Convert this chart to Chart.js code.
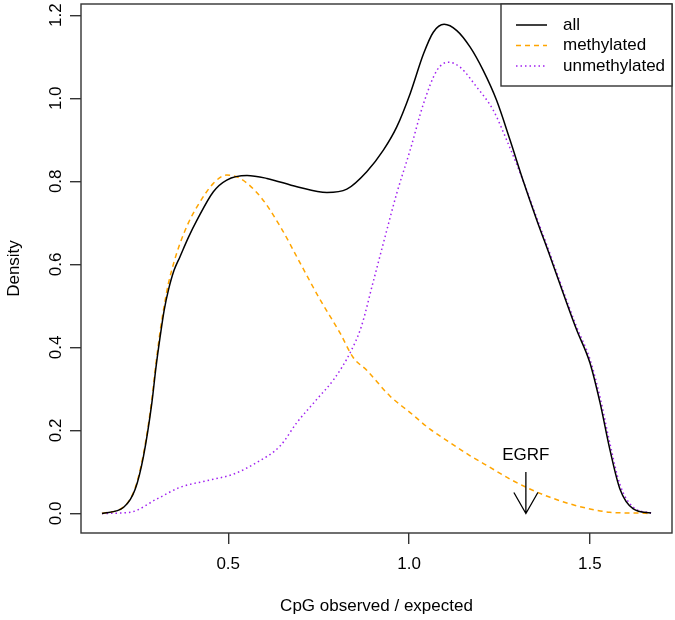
<!DOCTYPE html>
<html>
<head>
<meta charset="utf-8">
<script src="https://cdn.jsdelivr.net/npm/chart.js@4/dist/chart.umd.min.js"></script>
<style>
  html, body { margin: 0; padding: 0; background: #fff; }
  #wrap { width: 675px; height: 620px; }
</style>
</head>
<body>
<div id="wrap"><canvas id="densityChart" width="675" height="620"></canvas></div>
<script>
// density curves
const allX = [0.151, 0.211, 0.243, 0.266, 0.289, 0.300, 0.312, 0.323, 0.335, 0.350, 0.367, 0.390, 0.414, 0.459, 0.496, 0.552, 0.607, 0.690, 0.773, 0.828, 0.883, 0.929, 0.966, 1.003, 1.040, 1.067, 1.097, 1.132, 1.169, 1.205, 1.242, 1.279, 1.316, 1.353, 1.390, 1.426, 1.463, 1.500, 1.528, 1.555, 1.583, 1.620, 1.669];
const allY = [0.000, 0.015, 0.059, 0.139, 0.267, 0.350, 0.427, 0.490, 0.539, 0.585, 0.619, 0.665, 0.707, 0.775, 0.803, 0.814, 0.807, 0.787, 0.773, 0.781, 0.823, 0.875, 0.931, 1.011, 1.107, 1.159, 1.178, 1.163, 1.123, 1.067, 0.995, 0.900, 0.800, 0.707, 0.619, 0.531, 0.443, 0.363, 0.267, 0.155, 0.059, 0.011, 0.001];

const methX = [0.151, 0.211, 0.243, 0.266, 0.289, 0.300, 0.312, 0.323, 0.335, 0.350, 0.367, 0.390, 0.414, 0.459, 0.496, 0.533, 0.589, 0.644, 0.699, 0.754, 0.809, 0.846, 0.883, 0.947, 1.003, 1.058, 1.113, 1.169, 1.224, 1.279, 1.334, 1.390, 1.445, 1.500, 1.555, 1.629, 1.669];
const methY = [0.000, 0.016, 0.062, 0.145, 0.275, 0.360, 0.440, 0.500, 0.555, 0.605, 0.651, 0.700, 0.739, 0.795, 0.815, 0.807, 0.763, 0.691, 0.603, 0.515, 0.435, 0.375, 0.345, 0.283, 0.243, 0.203, 0.171, 0.139, 0.111, 0.083, 0.059, 0.039, 0.023, 0.011, 0.003, 0.001, 0.000];

const unmethX = [0.151, 0.229, 0.303, 0.367, 0.441, 0.515, 0.579, 0.644, 0.690, 0.745, 0.792, 0.837, 0.868, 0.900, 0.929, 0.966, 1.003, 1.040, 1.077, 1.109, 1.141, 1.187, 1.233, 1.270, 1.316, 1.353, 1.390, 1.426, 1.463, 1.500, 1.528, 1.555, 1.583, 1.620, 1.669];
const unmethY = [0.000, 0.003, 0.035, 0.063, 0.079, 0.095, 0.123, 0.163, 0.219, 0.275, 0.323, 0.387, 0.450, 0.555, 0.651, 0.771, 0.875, 0.987, 1.067, 1.087, 1.075, 1.027, 0.971, 0.899, 0.800, 0.712, 0.625, 0.537, 0.450, 0.372, 0.280, 0.170, 0.070, 0.015, 0.001];

const seriesNames = ['all', 'methylated', 'unmethylated'];
const xTicks = [0.5, 1.0, 1.5];
const yTicks = [0.0, 0.2, 0.4, 0.6, 0.8, 1.0, 1.2];

// EGRF marker
const egrfLabel = 'EGRF';
const egrfX = 1.323;
const egrfArrowTop = 0.1;
const egrfTextY = 0.139;

const FONT = '"Liberation Sans", Arial, Helvetica, sans-serif';

function toPoints(xs, ys) {
    return xs.map((x, i) => ({ x: x, y: ys[i] }));
}

// рамка, подписи оси Y, заголовки осей, стрелка EGRF и легенда
const extrasPlugin = {
    id: 'extras',
    afterDraw(chart) {
        const ctx = chart.ctx;
        const area = chart.chartArea;
        const xs = chart.scales.x;
        const ys = chart.scales.y;

        ctx.save();
        // frame
        ctx.strokeStyle = '#333';
        ctx.lineWidth = 1.4;
        ctx.strokeRect(area.left, area.top, area.right - area.left, area.bottom - area.top);

        ctx.fillStyle = '#000';
        ctx.font = '17px ' + FONT;
        ctx.textAlign = 'center';
        ctx.textBaseline = 'middle';

        // y tick labels, rotated
        yTicks.forEach(v => {
            const py = ys.getPixelForValue(v);
            ctx.save();
            ctx.translate(56, py);
            ctx.rotate(-Math.PI / 2);
            ctx.fillText(v.toFixed(1), 0, 0);
            ctx.restore();
        });

        // axis titles
        ctx.fillText('CpG observed / expected', (area.left + area.right) / 2, 606);
        ctx.save();
        ctx.translate(14, (area.top + area.bottom) / 2);
        ctx.rotate(-Math.PI / 2);
        ctx.fillText('Density', 0, 0);
        ctx.restore();

        // EGRF arrow
        const ax = xs.getPixelForValue(egrfX);
        const aTop = ys.getPixelForValue(egrfArrowTop);
        const aTip = ys.getPixelForValue(0);
        ctx.strokeStyle = '#000';
        ctx.lineWidth = 1.3;
        ctx.beginPath();
        ctx.moveTo(ax, aTop);
        ctx.lineTo(ax, aTip);
        ctx.moveTo(ax - 12, aTip - 21);
        ctx.lineTo(ax, aTip);
        ctx.lineTo(ax + 12, aTip - 21);
        ctx.stroke();
        ctx.fillText(egrfLabel, ax, ys.getPixelForValue(egrfTextY));

        // legend box in the top right corner
        const lx = 501, ly = area.top, lw = area.right - 501, lh = 82;
        ctx.fillStyle = '#fff';
        ctx.fillRect(lx, ly, lw, lh);
        ctx.strokeStyle = '#333';
        ctx.lineWidth = 1.4;
        ctx.strokeRect(lx, ly, lw, lh);
        const rows = [25, 45.5, 66];
        chart.data.datasets.forEach((ds, i) => {
            ctx.strokeStyle = ds.borderColor;
            ctx.lineWidth = ds.borderWidth;
            ctx.setLineDash(ds.borderDash || []);
            ctx.beginPath();
            ctx.moveTo(516, rows[i]);
            ctx.lineTo(547, rows[i]);
            ctx.stroke();
            ctx.setLineDash([]);
            ctx.fillStyle = '#000';
            ctx.textAlign = 'left';
            ctx.fillText(ds.label, 563, rows[i]);
        });
        ctx.restore();
    }
};

const ctx = document.getElementById('densityChart');
new Chart(ctx, {
    type: 'scatter',
    data: {
        datasets: [
            {
                label: seriesNames[0],
                data: toPoints(allX, allY),
                borderColor: '#000000',
                borderWidth: 1.5
            },
            {
                label: seriesNames[1],
                data: toPoints(methX, methY),
                borderColor: '#FFA500',
                borderWidth: 1.5,
                borderDash: [5, 4]
            },
            {
                label: seriesNames[2],
                data: toPoints(unmethX, unmethY),
                borderColor: '#A020F0',
                borderWidth: 1.5,
                borderDash: [1.5, 3]
            }
        ].map(ds => Object.assign(ds, {
            showLine: true,
            pointRadius: 0,
            pointHoverRadius: 0,
            cubicInterpolationMode: 'monotone',
            fill: false
        }))
    },
    options: {
        responsive: false,
        animation: false,
        layout: { padding: { top: 4, right: 3, left: 0, bottom: 0 } },
        plugins: {
            legend: { display: false },
            tooltip: { enabled: false }
        },
        scales: {
            x: {
                type: 'linear',
                min: 0.093,
                max: 1.727,
                afterBuildTicks: scale => { scale.ticks = xTicks.map(v => ({ value: v })); },
                afterFit: scale => { scale.height = 87; },
                grid: {
                    drawOnChartArea: false,
                    drawTicks: true,
                    tickLength: 11,
                    color: '#333',
                    lineWidth: 1.4
                },
                border: { display: false },
                ticks: {
                    autoSkip: false,
                    maxRotation: 0,
                    padding: 10,
                    color: '#000',
                    font: { family: FONT, size: 17 },
                    callback: v => Number(v).toFixed(1)
                }
            },
            y: {
                type: 'linear',
                min: -0.047,
                max: 1.227,
                afterBuildTicks: scale => { scale.ticks = yTicks.map(v => ({ value: v })); },
                afterFit: scale => { scale.width = 81; },
                grid: {
                    drawOnChartArea: false,
                    drawTicks: true,
                    tickLength: 11,
                    color: '#333',
                    lineWidth: 1.4
                },
                border: { display: false },
                ticks: { display: false }
            }
        }
    },
    plugins: [extrasPlugin]
});
</script>
</body>
</html>
